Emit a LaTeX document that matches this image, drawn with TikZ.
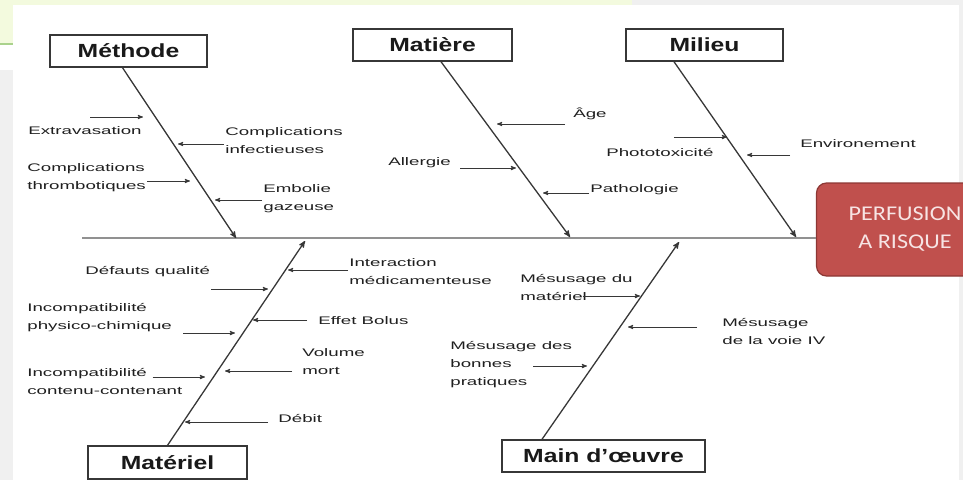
\documentclass[tikz,border=0pt]{standalone}
\usepackage{fontspec}
\setmainfont{Liberation Sans}
\newfontfamily\carlito{Carlito}
\usepackage{tikz}
\usetikzlibrary{arrows,positioning,calc}
\definecolor{fondjaune}{RGB}{243,250,222}
\definecolor{filetvert}{RGB}{170,210,140}
\definecolor{fondgris}{RGB}{240,240,240}
\definecolor{rouge}{RGB}{192,80,77}
\definecolor{rougefonce}{RGB}{140,55,52}
\definecolor{rose}{RGB}{247,228,228}
\definecolor{trait}{RGB}{55,55,55}
\definecolor{arete}{RGB}{145,145,145}
\newcommand{\etire}[2][1.3]{\scalebox{#1}[1]{#2}}

\begin{document}
\begin{tikzpicture}[x=1pt, y=-1pt, >=stealth', semithick,
        cat/.style={rectangle,draw=trait,line width=1.4pt,fill=white,inner sep=0pt,
          minimum width=157pt,minimum height=32pt,text=black!90,
          font=\fontsize{19}{22}\selectfont\bfseries},
        cause/.style={anchor=west,align=left,inner sep=0.5pt,xscale=1.7,text=black!88,
          font=\fontsize{11}{18}\selectfont},
        branche/.style={->,draw=trait,line width=1.3pt},
        fleche/.style={->,draw=trait,line width=0.9pt},
        effet/.style={rectangle,rounded corners=10pt,draw=rougefonce,line width=1.2pt,
          fill=rouge,text=rose,minimum width=177pt,minimum height=93pt,align=center,
          font=\carlito\fontsize{21}{28}\selectfont}]
  \useasboundingbox (0,0) rectangle (963,480);
  \clip (0,0) rectangle (963,480);
  \fill[fondjaune] (0,0) rectangle (632,5);
  \fill[fondjaune] (0,0) rectangle (13,43);
  \fill[fondgris] (632,0) rectangle (963,5);
  \fill[fondgris] (0,70) rectangle (13,480);
  \fill[fondgris] (959,5) rectangle (963,480);
  \draw[filetvert,line width=2pt] (0,44) -- (13,44);

  \node[effet] at (905,229.5) (perf) {\etire[1.15]{PERFUSION}\\\etire[1.15]{A RISQUE}};
  \coordinate (queue) at (82,238);
  \draw[arete,line width=2pt] (queue) -- (queue -| perf.west);

  \node[cat] at (128.5,51) (meth) {\etire{Méthode}};
  \node[cat,minimum width=159pt] at (432.5,45) (mat) {\etire{Matière}};
  \node[cat] at (704.5,45) (mil) {\etire{Milieu}};
  \node[cat,minimum width=159pt,minimum height=33pt] at (167.5,462.5) (matl) {\etire{Matériel}};
  \node[cat,minimum width=203pt] at (603.5,456) (mo) {\etire{Main d’œuvre}};

  \coordinate (meth-fin) at (236,238);
  \coordinate (mat-fin) at (570,237);
  \coordinate (mil-fin) at (796,237);
  \coordinate (matl-fin) at (305,241);
  \coordinate (mo-fin) at (679,242);
  \draw[branche] ($(meth.south)+(-6,0)$) to (meth-fin);
  \draw[branche] ($(mat.south)+(8.5,0)$) to (mat-fin);
  \draw[branche] ($(mil.south)+(-30.5,0)$) to (mil-fin);
  \draw[branche] (matl.north) to (matl-fin);
  \draw[branche] ($(mo.north)+(-61.5,0)$) to (mo-fin);

  \node[cause] at (27,131) (c1) {Extravasation};
  \node[cause] at (224,141) (c2) {Complications\\infectieuses};
  \node[cause] at (26,178) (c3) {Complications\\thrombotiques};
  \node[cause] at (262,199) (c4) {Embolie\\gazeuse};
  \node[cause] at (572,114) (c5) {Âge};
  \node[cause] at (387,163) (c6) {Allergie};
  \node[cause] at (589,190) (c7) {Pathologie};
  \node[cause] at (605,152) (c8) {Phototoxicité};
  \node[cause] at (799,144) (c9) {Environement};
  \coordinate (t1) at (143,117);
  \coordinate (t2) at (178,144);
  \coordinate (t3) at (190,181);
  \coordinate (t4) at (215,200);
  \coordinate (t5) at (497,124);
  \coordinate (t6) at (516,168);
  \coordinate (t7) at (543,193);
  \coordinate (t8) at (727,137);
  \coordinate (t9) at (747,155);
  \draw[fleche] ($(c1.north |- t1)+(5,0)$) to (t1);
  \draw[fleche] (c2.west |- t2) to (t2);
  \draw[fleche] (c3.east |- t3) to (t3);
  \draw[fleche] (c4.west |- t4) to (t4);
  \draw[fleche] ($(c5.west |- t5)+(-7,0)$) to (t5);
  \draw[fleche] ($(c6.east |- t6)+(8,0)$) to (t6);
  \draw[fleche] (c7.west |- t7) to (t7);
  \draw[fleche] ($(c8.north |- t8)+(14,0)$) to (t8);
  \draw[fleche] ($(c9.west |- t9)+(-9,0)$) to (t9);

  \node[cause] at (84,272) (d1) {Défauts qualité};
  \node[cause] at (348,272) (d2) {Interaction\\médicamenteuse};
  \node[cause] at (26,318) (d3) {Incompatibilité\\physico-chimique};
  \node[cause] at (317,321) (d4) {Effet Bolus};
  \node[cause] at (301,362) (d5) {Volume\\mort};
  \node[cause] at (26,381) (d6) {Incompatibilité\\contenu-contenant};
  \node[cause] at (277,418) (d7) {Débit};
  \coordinate (u1) at (268,289);
  \coordinate (u2) at (288,270);
  \coordinate (u3) at (235,333);
  \coordinate (u4) at (253,320);
  \coordinate (u5) at (225,371);
  \coordinate (u6) at (205,377);
  \coordinate (u7) at (185,422);
  \draw[fleche] (d1.east |- u1) to (u1);
  \draw[fleche] (d2.west |- u2) to (u2);
  \draw[fleche] ($(d3.east |- u3)+(10,0)$) to (u3);
  \draw[fleche] ($(d4.west |- u4)+(-10,0)$) to (u4);
  \draw[fleche] ($(d5.west |- u5)+(-9,0)$) to (u5);
  \draw[fleche] ($(d6.east |- u6)+(-31,0)$) to (u6);
  \draw[fleche] ($(d7.west |- u7)+(-9,0)$) to (u7);

  \node[cause] at (519,287) (e1) {Mésusage du\\matériel};
  \node[cause] at (721,331) (e2) {Mésusage\\de la voie IV};
  \node[cause] at (449,365) (e3) {Mésusage des\\bonnes\\pratiques};
  \coordinate (v1) at (640,296);
  \coordinate (v2) at (628,327);
  \coordinate (v3) at (587,366);
  \draw[fleche] ($(e1 |- v1)+(6,0)$) to (v1);
  \draw[fleche] ($(e2.west |- v2)+(-24,0)$) to (v2);
  \draw[fleche] ($(e3.east |- v3)+(-40,0)$) to (v3);
\end{tikzpicture}
\end{document}
